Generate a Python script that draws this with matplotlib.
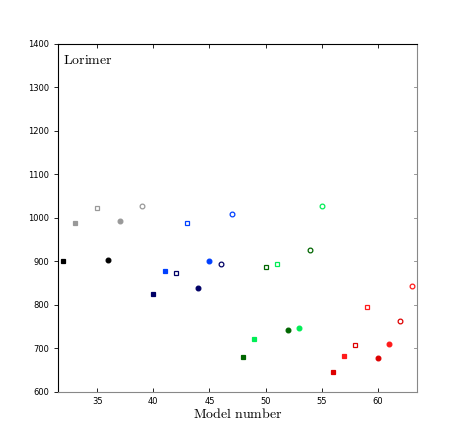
import matplotlib
matplotlib.use("Agg")
import matplotlib.pyplot as plt

plt.rcParams['mathtext.fontset'] = 'cm'

# model number, mean value, colour, marker, filled
models = [32, 33, 35, 36, 37, 39,
          40, 41, 42, 43, 44, 45, 46, 47,
          48, 49, 50, 51, 52, 53, 54, 55,
          56, 57, 58, 59, 60, 61, 62, 63]
values = [900, 989, 1022, 904, 993, 1027,
          824, 877, 873, 988, 839, 900, 893, 1009,
          680, 721, 886, 893, 742, 747, 927, 1027,
          646, 682, 708, 795, 677, 711, 764, 843]
colors = ['#000000', '#999999', '#999999', '#000000', '#999999', '#999999',
          '#000066', '#0040ff', '#000066', '#0040ff', '#000066', '#0040ff', '#000066', '#0040ff',
          '#006600', '#00ee55', '#006600', '#00ee55', '#006600', '#00ee55', '#006600', '#00ee55',
          '#dd0000', '#ff1a1a', '#dd0000', '#ff1a1a', '#dd0000', '#ff1a1a', '#dd0000', '#ff1a1a']
markers = ['s', 's', 's', 'o', 'o', 'o',
           's', 's', 's', 's', 'o', 'o', 'o', 'o',
           's', 's', 's', 's', 'o', 'o', 'o', 'o',
           's', 's', 's', 's', 'o', 'o', 'o', 'o']
filled = [True, True, False, True, True, False,
          True, True, False, False, True, True, False, False,
          True, True, False, False, True, True, False, False,
          True, True, False, False, True, True, False, False]

fig = plt.figure(figsize=(4.63, 4.36), dpi=100)
ax = fig.add_axes([0.125, 0.101, 0.776, 0.799])

for x, y, c, m, f in zip(models, values, colors, markers, filled):
    ax.plot([x], [y], linestyle='none', marker=m, ms=3.4,
            mfc=c if f else 'none', mec=c, mew=0.9)

ax.set_xlim(31.5, 63.5)
ax.set_ylim(600, 1400)
ax.set_xticks([35, 40, 45, 50, 55, 60])
ax.set_yticks(range(600, 1401, 100))

ax.spines['bottom'].set_color('#888888')
ax.spines['right'].set_color('#888888')
ax.tick_params(axis='both', labelsize=6, length=3, width=0.6)
ax.tick_params(axis='x', direction='in', top=True)
ax.tick_params(axis='y', direction='out', right=False)
ax.yaxis.set_ticks_position('left')
for t in range(600, 1401, 100):
    ax.plot([63.5 - 0.25, 63.5], [t, t], color='#888888', lw=0.6, clip_on=False)

ax.set_xlabel(r'$\mathrm{Model\ number}$', fontsize=10, labelpad=1)
ax.text(0.014, 0.972, r'$\mathrm{Lorimer}$', transform=ax.transAxes,
        fontsize=10, va='top', ha='left')

fig.savefig("out.png", dpi=100)
